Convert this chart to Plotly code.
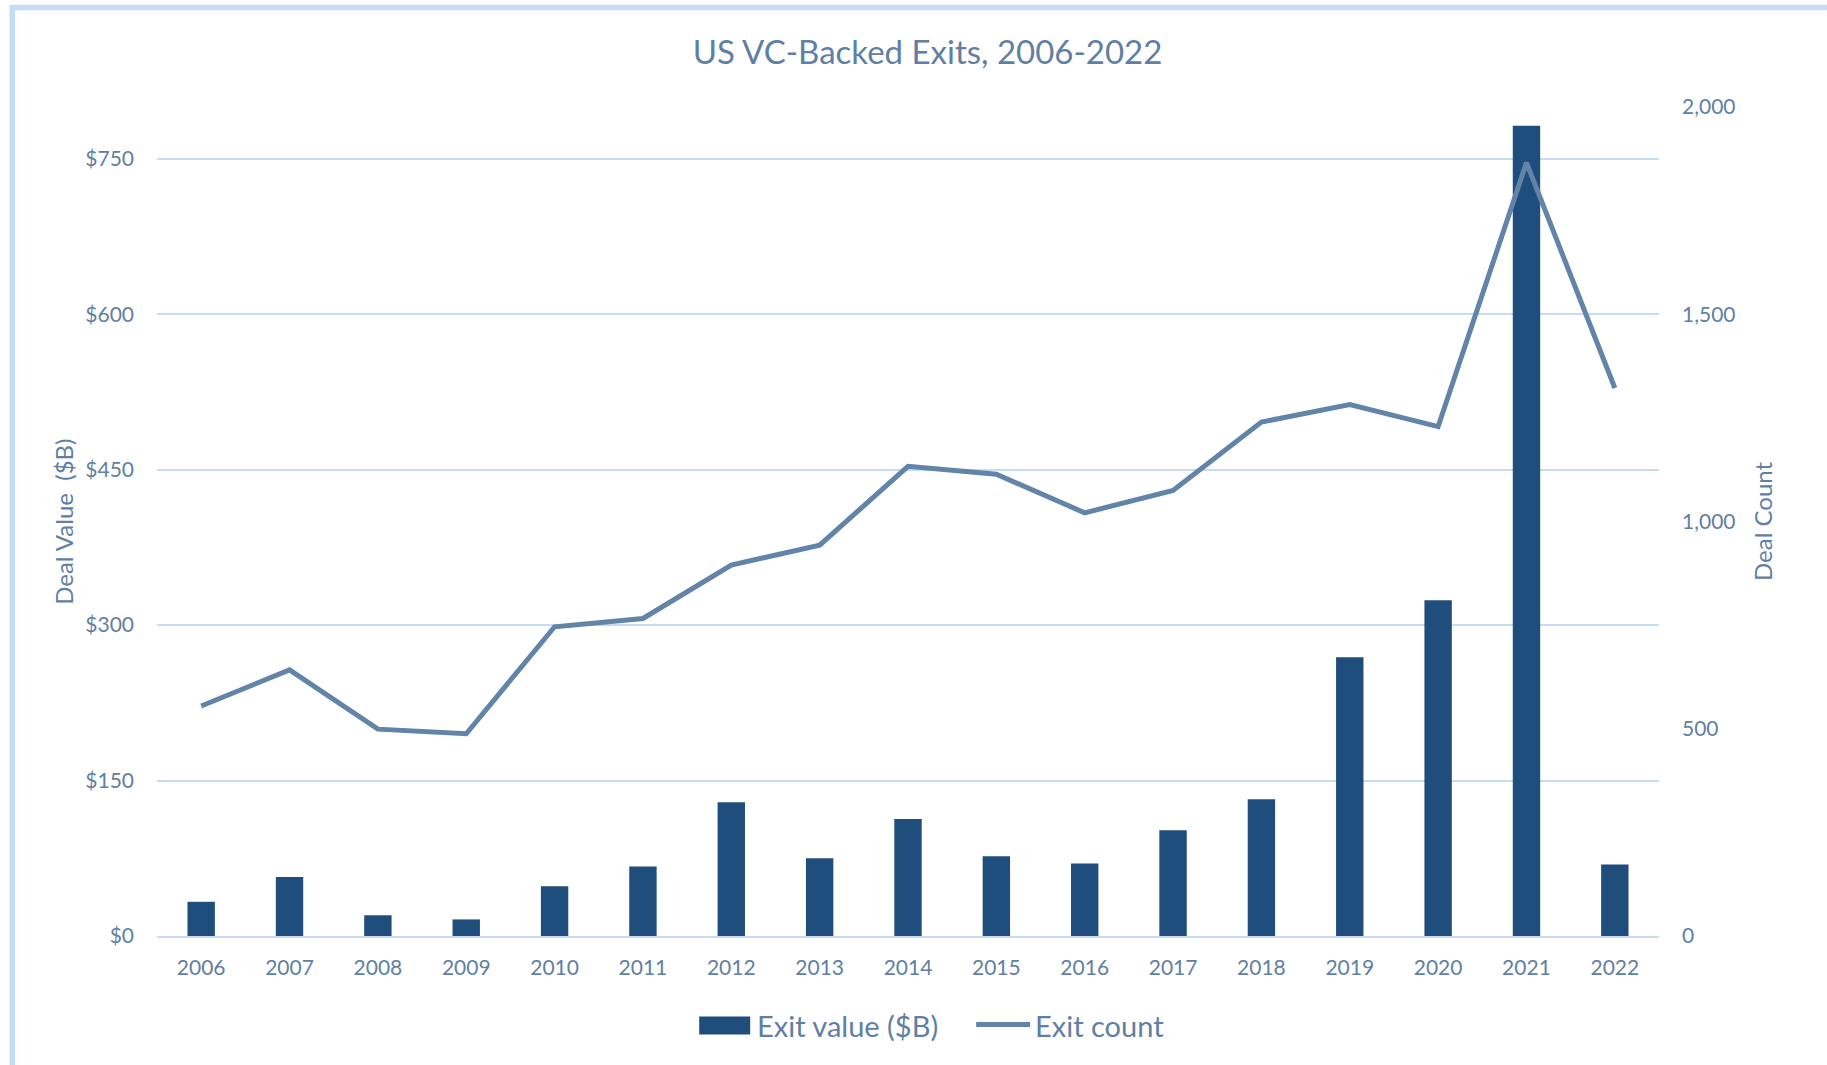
import plotly.graph_objects as go

years = [str(y) for y in range(2006, 2023)]
exit_value = [33, 57, 20, 16, 48, 67, 129, 75, 113, 77, 70, 102, 132, 269, 324, 782, 69]
exit_count = [555, 642, 499, 488, 746, 766, 895, 943, 1133, 1114, 1021, 1075, 1240, 1282, 1229, 1866, 1322]
value_ticks = [0, 150, 300, 450, 600, 750]
value_tick_labels = ["$" + str(v) for v in value_ticks]
count_ticks = [0, 500, 1000, 1500, 2000]

W, H = 1827, 1065
L, R, T, B = 156.7, 1659.0, 106.5, 936.5

TEXT = "#5f80a4"
BAR = "#1f4e7c"
LINE = "#6184a8"
GRID = "#c6dcf5"
FONT = "Lato"


def px_x(p):
    return (p - L) / (R - L)


def px_y(p):
    return (B - p) / (B - T)


fig = go.Figure()
fig.add_trace(go.Bar(x=years, y=exit_value, name="Exit value ($B)",
                     marker=dict(color=BAR, line=dict(width=0)), width=0.31,
                     yaxis="y"))
fig.add_trace(go.Scatter(x=years, y=exit_count, name="Exit count", mode="lines",
                         line=dict(color=LINE, width=5), yaxis="y2"))

fig.update_layout(
    width=W, height=H,
    margin=dict(l=L, r=W - R, t=T, b=H - B, pad=0),
    paper_bgcolor="white", plot_bgcolor="white",
    showlegend=False,
    font=dict(family=FONT, color=TEXT, size=21),
    title=dict(text="US VC-Backed Exits, 2006-2022", x=927.5 / W, xanchor="center",
               y=1 - 52 / H, yanchor="middle", font=dict(size=33, color=TEXT, family=FONT)),
    xaxis=dict(type="category", showgrid=False, showline=True, linecolor=GRID, linewidth=2,
               ticks="", ticklabelstandoff=12, tickfont=dict(size=21, color=TEXT)),
    yaxis=dict(range=[0, 800], tickvals=value_ticks, ticktext=value_tick_labels,
               showgrid=True, gridcolor=GRID, gridwidth=2, zeroline=False, showline=False,
               ticks="", ticklabelstandoff=22, tickfont=dict(size=21, color=TEXT)),
    yaxis2=dict(range=[0, 2000], tickvals=count_ticks, tickformat=",",
                overlaying="y", side="right", showgrid=False, zeroline=False, showline=False,
                ticks="", ticklabelstandoff=22, tickfont=dict(size=21, color=TEXT)),
)

# axis titles
fig.add_annotation(text="Deal Value\u00a0 ($B)", xref="paper", yref="paper",
                   x=px_x(63), y=px_y(521.5), textangle=-90, showarrow=False,
                   font=dict(size=24, color=TEXT, family=FONT), xanchor="center", yanchor="middle")
fig.add_annotation(text="Deal Count", xref="paper", yref="paper",
                   x=px_x(1762), y=px_y(521), textangle=-90, showarrow=False,
                   font=dict(size=24, color=TEXT, family=FONT), xanchor="center", yanchor="middle")

# custom legend
fig.add_shape(type="rect", xref="paper", yref="paper",
              x0=px_x(699), x1=px_x(750), y0=px_y(1035), y1=px_y(1017),
              fillcolor=BAR, line=dict(width=0))
fig.add_annotation(text="Exit value ($B)", xref="paper", yref="paper",
                   x=px_x(755), y=px_y(1026), showarrow=False, xanchor="left", yanchor="middle",
                   font=dict(size=29, color=TEXT, family=FONT))
fig.add_shape(type="line", xref="paper", yref="paper",
              x0=px_x(976), x1=px_x(1030), y0=px_y(1025), y1=px_y(1025),
              line=dict(color=LINE, width=5))
fig.add_annotation(text="Exit count", xref="paper", yref="paper",
                   x=px_x(1033), y=px_y(1026), showarrow=False, xanchor="left", yanchor="middle",
                   font=dict(size=29, color=TEXT, family=FONT))

# outer frame
fig.add_shape(type="rect", xref="paper", yref="paper",
              x0=px_x(12), x1=px_x(W + 20), y0=px_y(H + 20), y1=px_y(7),
              line=dict(color="#c5dcf7", width=5.5), fillcolor="rgba(0,0,0,0)", layer="below")

fig.write_html("out.html", config={"displayModeBar": False},
               post_script="document.body.style.margin='0';document.body.style.overflow='hidden';")
